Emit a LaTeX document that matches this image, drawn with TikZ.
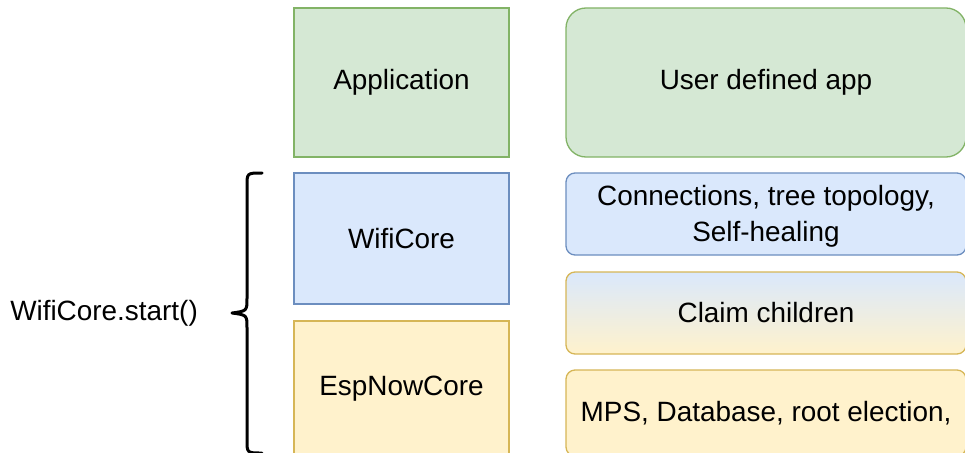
\documentclass[tikz,border=0pt]{standalone}
\usepackage{fontspec}
\setmainfont{Liberation Sans}
\definecolor{gfill}{HTML}{D5E8D4}
\definecolor{gline}{HTML}{82B366}
\definecolor{bfill}{HTML}{DAE8FC}
\definecolor{bline}{HTML}{6C8EBF}
\definecolor{yfill}{HTML}{FFF2CC}
\definecolor{yline}{HTML}{D6B656}
\tikzset{
  lbl/.style={font=\fontsize{27.9}{32}\selectfont, text=black, align=center, inner sep=0pt},
  layerbox/.style={lbl, draw, line width=1.3pt, minimum width=215pt},
  sidebox/.style={lbl, draw, line width=1.3pt, minimum width=400pt, rounded corners=9pt},
  green/.style={fill=gfill, draw=gline},
  blue/.style={fill=bfill, draw=bline},
  yellow/.style={fill=yfill, draw=yline},
  brace/.style={line width=3pt, line cap=round, line join=round}
}
\begin{document}
\begin{tikzpicture}[x=1pt,y=-1pt]
\useasboundingbox (0,0) rectangle (965,452);
\clip (0,0) rectangle (965,452);
% left layer boxes
\node[layerbox, green, minimum height=149pt] (app) at (401.5,82.5) {Application};
\node[layerbox, blue, minimum height=131pt] (wifi) at (401.5,238.5) {WifiCore};
\node[layerbox, yellow, minimum height=136pt] (esp) at (401.5,389) {EspNowCore};
% right description boxes
\node[sidebox, green, minimum height=149pt, rounded corners=20pt] (user) at (766,82.5) {User defined app};
\node[sidebox, blue, minimum height=82pt] (conn) at (766,214) {};
\node[lbl] (conntext) at (766,216) {Connections, tree topology,\\[4pt]Self-healing};
\node[sidebox, draw=yline, top color=bfill, bottom color=yfill, minimum height=82pt] (claim) at (766,313) {Claim children};
\node[sidebox, yellow, minimum height=86pt] (mps) at (766,413) {MPS, Database, root election,};
% brace
\coordinate (btop) at (262,173);
\coordinate (btip) at (232,313);
\coordinate (bbot) at (262,453);
\draw[brace] (btop) .. controls (247,173) .. (247,186) -- (247,298)
  .. controls (247,311) .. (btip) .. controls (247,315) .. (247,328)
  -- (247,440) .. controls (247,453) .. (bbot);
\node[lbl, anchor=east] (start) at (198,313) {WifiCore.start()};
\end{tikzpicture}
\end{document}
